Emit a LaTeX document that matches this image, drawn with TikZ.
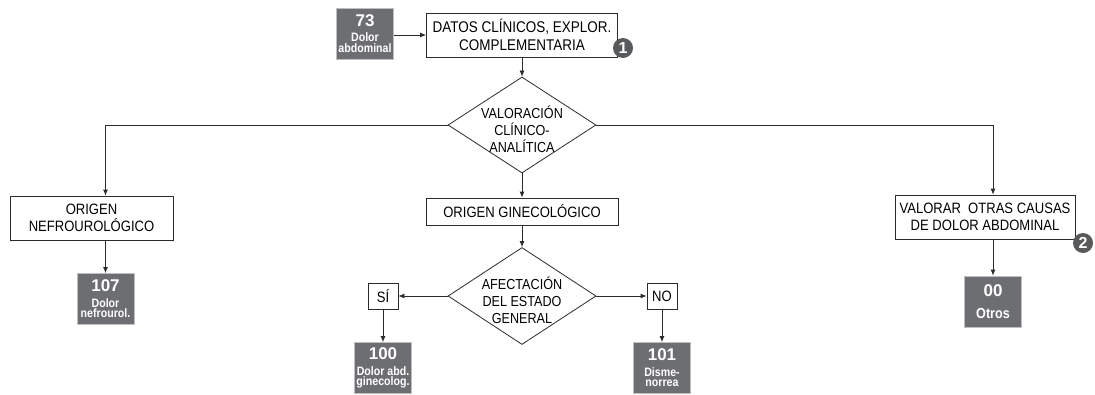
\documentclass[tikz,border=0pt]{standalone}
\usepackage{fontspec}
\setmainfont{Liberation Sans}[FakeStretch=0.87]
\newfontfamily\numfont{Liberation Sans}
\usetikzlibrary{arrows.meta, shapes.geometric, calc}
\definecolor{cgrey}{HTML}{6D6E71}
\definecolor{cdark}{HTML}{58595B}
\definecolor{cline}{HTML}{2B2B2B}
\newcommand{\codenum}[1]{{\numfont\bfseries\fontsize{17}{17}\selectfont #1}}
\tikzset{
  every picture/.style={line width=0.8pt},
  box/.style={draw=cline, fill=white, align=center, inner sep=2pt, font=\fontsize{15}{17.5}\selectfont},
  code/.style={draw=black!25, fill=cgrey, text=white, align=center, inner sep=0pt, minimum width=57pt, minimum height=51pt, font=\bfseries\fontsize{12.2}{10.5}\selectfont},
  choice/.style={diamond, draw=cline, fill=white, inner sep=0pt, minimum width=148pt, minimum height=96pt},
  ctext/.style={align=center, font=\fontsize{14.5}{17}\selectfont, yshift=-4pt},
  bubble/.style={circle, fill=cdark, text=white, inner sep=0pt, minimum size=20pt, font=\numfont\bfseries\fontsize{16}{16}\selectfont},
  arrow/.style={-{Latex[length=6pt, width=5pt]}, draw=cline},
}

\begin{document}
\begin{tikzpicture}[x=1pt, y=-1pt]
  \useasboundingbox (0,0) rectangle (1095,394);
  \node[code] (c73) at (365,33.5) {\codenum{73}\\[5pt]Dolor\\abdominal};
  \node[box, font=\fontsize{15.5}{17.5}\selectfont, minimum width=191pt, minimum height=44pt] (datos) at (522,35) {DATOS CLÍNICOS, EXPLOR.\\COMPLEMENTARIA};
  \node[bubble] (b1) at (623,48) {1};
  \draw[arrow] (c73.east |- datos.west) -- (datos.west);
  \node[choice, label={[ctext]center:{VALORACIÓN\\CLÍNICO-\\ANALÍTICA}}] (val) at (522,125) {};
  \draw[arrow] (datos) -- (val);
  % left branch
  \node[box, minimum width=163pt, minimum height=44pt] (nef) at (91.5,218) {ORIGEN\\NEFROUROLÓGICO};
  \node[code] (c107) at (105.5,299) {\codenum{107}\\[5pt]Dolor\\nefrourol.};
  \draw[arrow] (val.west) -| (c107.north |- nef.north);
  \draw[arrow] (c107.north |- nef.south) -- (c107);
  % right branch
  \node[box, minimum width=180pt, minimum height=44pt] (otr) at (985,217) {VALORAR\ \ OTRAS CAUSAS\\DE DOLOR ABDOMINAL};
  \node[bubble] (b2) at (1083,243) {2};
  \node[code] (c00) at (993,301.5) {\codenum{00}\\[11pt]{\fontsize{14.5}{13}\selectfont Otros}};
  \draw[arrow] (val.east) -| (c00.north |- otr.north);
  \draw[arrow] (c00.north |- otr.south) -- (c00);
  % central branch
  \node[box, minimum width=192pt, minimum height=27pt] (gin) at (522,211.5) {ORIGEN GINECOLÓGICO};
  \draw[arrow] (val) -- (gin);
  \node[choice, minimum height=97pt, label={[ctext]center:{AFECTACIÓN\\DEL ESTADO\\GENERAL}}] (afe) at (522,296) {};
  \draw[arrow] (gin) -- (afe);
  \node[box, minimum width=30pt, minimum height=26pt, inner sep=0pt] (si) at (383,296) {SÍ};
  \node[box, minimum width=30pt, minimum height=26pt, inner sep=0pt] (no) at (662,296) {NO};
  \draw[arrow] (afe) -- (si);
  \draw[arrow] (afe) -- (no);
  \node[code] (c100) at (383,368) {\codenum{100}\\[5pt]Dolor abd.\\ginecolog.};
  \node[code] (c101) at (662,368) {\codenum{101}\\[5pt]Disme-\\norrea};
  \draw[arrow] (si) -- (c100);
  \draw[arrow] (no) -- (c101);
\end{tikzpicture}
\end{document}
